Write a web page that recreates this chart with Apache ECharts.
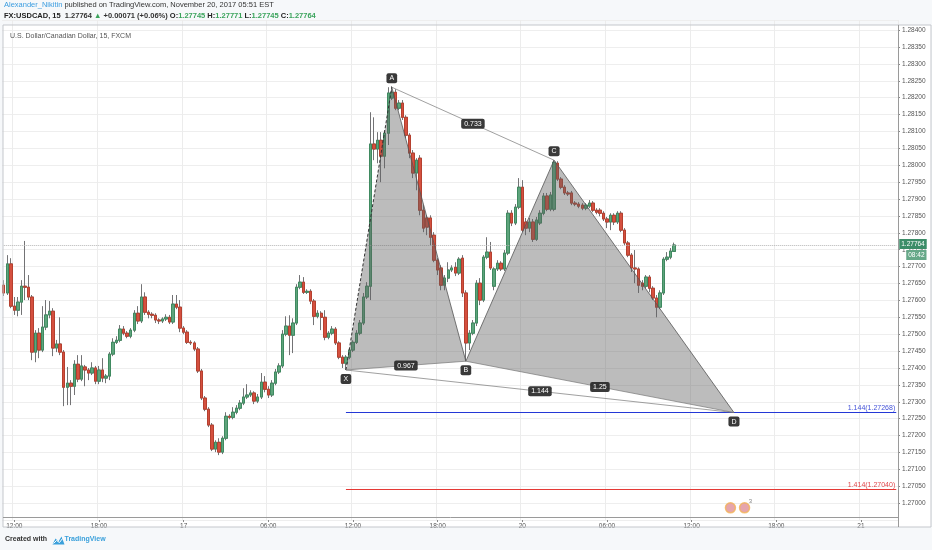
<!DOCTYPE html>
<html>
<head>
<meta charset="utf-8">
<title>FX:USDCAD, 15</title>
<script src="https://cdn.jsdelivr.net/npm/echarts@6/dist/echarts.min.js"></script>
<style>
  html, body { margin: 0; padding: 0; background: #f6f8fa; }
  #chart { width: 932px; height: 550px; }
</style>
</head>
<body>
<div id="chart"></div>
<script>
// 15 minute bars, Thu 16 11:15 -> Mon 20 10:45
var opens = [
  1.27645, 1.27622, 1.27708, 1.27583, 1.27571, 1.27595, 1.27642, 1.27639, 1.27610, 1.27447,
  1.27503, 1.27453, 1.27521, 1.27557, 1.27568, 1.27459, 1.27471, 1.27447, 1.27343, 1.27355,
  1.27346, 1.27411, 1.27367, 1.27403, 1.27394, 1.27385, 1.27400, 1.27361, 1.27394, 1.27370,
  1.27376, 1.27441, 1.27476, 1.27482, 1.27515, 1.27503, 1.27494, 1.27512, 1.27562, 1.27539,
  1.27610, 1.27565, 1.27559, 1.27556, 1.27542, 1.27539, 1.27545, 1.27550, 1.27536, 1.27589,
  1.27580, 1.27518, 1.27506, 1.27476, 1.27474, 1.27456, 1.27391, 1.27311, 1.27278, 1.27231,
  1.27160, 1.27180, 1.27151, 1.27192, 1.27257, 1.27254, 1.27269, 1.27281, 1.27296, 1.27314,
  1.27320, 1.27326, 1.27302, 1.27314, 1.27358, 1.27337, 1.27320, 1.27355, 1.27388, 1.27406,
  1.27500, 1.27524, 1.27497, 1.27533, 1.27639, 1.27654, 1.27624, 1.27627, 1.27598, 1.27553,
  1.27562, 1.27550, 1.27491, 1.27503, 1.27515, 1.27474, 1.27432, 1.27414, 1.27432, 1.27453,
  1.27476, 1.27503, 1.27533, 1.27610, 1.27642, 1.28063, 1.28048, 1.28074, 1.28027, 1.28095,
  1.28199, 1.28216, 1.28169, 1.28184, 1.28142, 1.28089, 1.28036, 1.27977, 1.28021, 1.27867,
  1.27844, 1.27844, 1.27793, 1.27719, 1.27696, 1.27645, 1.27666, 1.27690, 1.27698, 1.27681,
  1.27725, 1.27622, 1.27474, 1.27503, 1.27533, 1.27651, 1.27601, 1.27728, 1.27743, 1.27642,
  1.27693, 1.27710, 1.27693, 1.27740, 1.27858, 1.27829, 1.27876, 1.27935, 1.27832, 1.27814,
  1.27832, 1.27781, 1.27829, 1.27858, 1.27909, 1.27870, 1.27870, 1.28006, 1.27959, 1.27935,
  1.27918, 1.27918, 1.27888, 1.27885, 1.27882, 1.27873, 1.27879, 1.27888, 1.27867, 1.27867,
  1.27858, 1.27841, 1.27832, 1.27852, 1.27832, 1.27858, 1.27808, 1.27770, 1.27734, 1.27696,
  1.27693, 1.27651, 1.27642, 1.27669, 1.27636, 1.27607, 1.27580, 1.27622, 1.27722, 1.27728, 1.27745
];
var closes = [
  1.27622, 1.27708, 1.27583, 1.27571, 1.27595, 1.27642, 1.27639, 1.27610, 1.27447, 1.27503,
  1.27453, 1.27521, 1.27557, 1.27568, 1.27459, 1.27471, 1.27447, 1.27343, 1.27355, 1.27346,
  1.27411, 1.27367, 1.27406, 1.27394, 1.27385, 1.27400, 1.27361, 1.27394, 1.27370, 1.27376,
  1.27441, 1.27476, 1.27482, 1.27515, 1.27503, 1.27494, 1.27512, 1.27562, 1.27539, 1.27610,
  1.27565, 1.27559, 1.27556, 1.27542, 1.27539, 1.27545, 1.27550, 1.27536, 1.27589, 1.27580,
  1.27518, 1.27506, 1.27476, 1.27474, 1.27456, 1.27391, 1.27311, 1.27278, 1.27231, 1.27160,
  1.27180, 1.27151, 1.27192, 1.27257, 1.27254, 1.27269, 1.27281, 1.27296, 1.27314, 1.27320,
  1.27326, 1.27302, 1.27314, 1.27358, 1.27337, 1.27320, 1.27355, 1.27388, 1.27406, 1.27500,
  1.27524, 1.27497, 1.27533, 1.27639, 1.27654, 1.27624, 1.27627, 1.27598, 1.27553, 1.27562,
  1.27550, 1.27491, 1.27503, 1.27515, 1.27474, 1.27432, 1.27414, 1.27432, 1.27453, 1.27476,
  1.27503, 1.27533, 1.27610, 1.27642, 1.28063, 1.28048, 1.28074, 1.28027, 1.28095, 1.28214,
  1.28216, 1.28169, 1.28184, 1.28142, 1.28089, 1.28036, 1.27977, 1.28015, 1.27867, 1.27814,
  1.27817, 1.27787, 1.27719, 1.27690, 1.27645, 1.27666, 1.27690, 1.27696, 1.27681, 1.27722,
  1.27622, 1.27474, 1.27503, 1.27533, 1.27651, 1.27601, 1.27728, 1.27743, 1.27696, 1.27693,
  1.27710, 1.27693, 1.27740, 1.27858, 1.27829, 1.27876, 1.27935, 1.27808, 1.27814, 1.27832,
  1.27781, 1.27838, 1.27858, 1.27909, 1.27870, 1.27912, 1.28009, 1.27959, 1.27935, 1.27918,
  1.27915, 1.27888, 1.27885, 1.27879, 1.27873, 1.27882, 1.27888, 1.27867, 1.27861, 1.27858,
  1.27841, 1.27832, 1.27852, 1.27832, 1.27858, 1.27808, 1.27770, 1.27734, 1.27696, 1.27693,
  1.27645, 1.27642, 1.27669, 1.27636, 1.27607, 1.27580, 1.27622, 1.27722, 1.27728, 1.27746, 1.27764
];
var lows = [
  1.27613, 1.27616, 1.27577, 1.27557, 1.27553, 1.27557, 1.27601, 1.27601, 1.27423, 1.27417,
  1.27429, 1.27447, 1.27512, 1.27547, 1.27435, 1.27447, 1.27438, 1.27287, 1.27290, 1.27290,
  1.27320, 1.27358, 1.27361, 1.27346, 1.27364, 1.27379, 1.27352, 1.27352, 1.27358, 1.27355,
  1.27364, 1.27435, 1.27471, 1.27476, 1.27497, 1.27488, 1.27488, 1.27506, 1.27530, 1.27533,
  1.27557, 1.27547, 1.27547, 1.27533, 1.27530, 1.27533, 1.27539, 1.27530, 1.27530, 1.27574,
  1.27506, 1.27500, 1.27471, 1.27468, 1.27450, 1.27385, 1.27305, 1.27272, 1.27225, 1.27154,
  1.27151, 1.27142, 1.27145, 1.27186, 1.27248, 1.27248, 1.27263, 1.27275, 1.27290, 1.27308,
  1.27314, 1.27293, 1.27296, 1.27308, 1.27328, 1.27311, 1.27314, 1.27349, 1.27382, 1.27400,
  1.27494, 1.27438, 1.27444, 1.27527, 1.27633, 1.27619, 1.27619, 1.27589, 1.27527, 1.27547,
  1.27512, 1.27482, 1.27485, 1.27497, 1.27468, 1.27426, 1.27400, 1.27394, 1.27426, 1.27447,
  1.27471, 1.27497, 1.27527, 1.27604, 1.27601, 1.28015, 1.28006, 1.27950, 1.27991, 1.28060,
  1.28193, 1.28163, 1.28163, 1.28134, 1.28080, 1.28021, 1.27962, 1.27926, 1.27852, 1.27802,
  1.27793, 1.27764, 1.27713, 1.27675, 1.27630, 1.27630, 1.27654, 1.27684, 1.27672, 1.27675,
  1.27610, 1.27420, 1.27453, 1.27497, 1.27524, 1.27586, 1.27595, 1.27722, 1.27690, 1.27630,
  1.27687, 1.27687, 1.27687, 1.27734, 1.27820, 1.27823, 1.27870, 1.27802, 1.27793, 1.27802,
  1.27773, 1.27776, 1.27823, 1.27852, 1.27864, 1.27864, 1.27864, 1.27953, 1.27929, 1.27912,
  1.27909, 1.27882, 1.27879, 1.27873, 1.27867, 1.27867, 1.27873, 1.27861, 1.27855, 1.27849,
  1.27835, 1.27814, 1.27808, 1.27823, 1.27826, 1.27802, 1.27764, 1.27728, 1.27684, 1.27651,
  1.27622, 1.27630, 1.27636, 1.27624, 1.27601, 1.27550, 1.27574, 1.27616, 1.27716, 1.27722, 1.27745
];
var highs = [
  1.27660, 1.27734, 1.27725, 1.27610, 1.27610, 1.27660, 1.27776, 1.27675, 1.27616, 1.27512,
  1.27518, 1.27583, 1.27601, 1.27598, 1.27577, 1.27483, 1.27550, 1.27453, 1.27403, 1.27364,
  1.27423, 1.27438, 1.27438, 1.27409, 1.27400, 1.27417, 1.27406, 1.27406, 1.27429, 1.27382,
  1.27447, 1.27488, 1.27494, 1.27527, 1.27524, 1.27509, 1.27518, 1.27571, 1.27583, 1.27648,
  1.27624, 1.27571, 1.27565, 1.27562, 1.27547, 1.27550, 1.27559, 1.27557, 1.27616, 1.27616,
  1.27601, 1.27524, 1.27512, 1.27482, 1.27479, 1.27462, 1.27397, 1.27317, 1.27284, 1.27237,
  1.27186, 1.27192, 1.27198, 1.27269, 1.27263, 1.27284, 1.27290, 1.27305, 1.27340, 1.27352,
  1.27334, 1.27331, 1.27323, 1.27385, 1.27376, 1.27346, 1.27364, 1.27397, 1.27414, 1.27512,
  1.27553, 1.27556, 1.27547, 1.27648, 1.27675, 1.27669, 1.27633, 1.27633, 1.27604, 1.27571,
  1.27568, 1.27571, 1.27509, 1.27524, 1.27521, 1.27479, 1.27438, 1.27438, 1.27459, 1.27482,
  1.27512, 1.27542, 1.27622, 1.27654, 1.28157, 1.28142, 1.28098, 1.28098, 1.28104, 1.28231,
  1.28234, 1.28225, 1.28193, 1.28193, 1.28148, 1.28095, 1.28045, 1.28021, 1.28030, 1.27882,
  1.27852, 1.27852, 1.27802, 1.27725, 1.27704, 1.27675, 1.27713, 1.27704, 1.27713, 1.27728,
  1.27734, 1.27630, 1.27512, 1.27542, 1.27660, 1.27666, 1.27734, 1.27787, 1.27773, 1.27698,
  1.27719, 1.27716, 1.27749, 1.27867, 1.27867, 1.27885, 1.27962, 1.27956, 1.27844, 1.27844,
  1.27841, 1.27847, 1.27867, 1.27918, 1.27918, 1.27921, 1.28015, 1.28012, 1.27965, 1.27941,
  1.27924, 1.27924, 1.27894, 1.27891, 1.27888, 1.27888, 1.27897, 1.27894, 1.27873, 1.27873,
  1.27864, 1.27847, 1.27858, 1.27858, 1.27864, 1.27864, 1.27814, 1.27776, 1.27740, 1.27749,
  1.27698, 1.27660, 1.27675, 1.27675, 1.27642, 1.27616, 1.27630, 1.27728, 1.27743, 1.27755, 1.27771
];

// XABCD pattern (bar index, price)
var patternNames = ["X", "A", "B", "C", "D"];
var patternBars = [97, 110, 131, 156, 207];
var patternPrices = [1.27394, 1.28231, 1.27420, 1.28015, 1.27268];
var ratioLabels = ["0.967", "0.733", "1.144", "1.25"]; // XB, AC, XD, BD

var lastPrice = 1.27764;
var projections = [1.27268, 1.27040];
var projectionLabels = ["1.144(1.27268)", "1.414(1.27040)"];
var eventBars = [206, 210];

function pad(n) { return n < 10 ? "0" + n : "" + n; }

// bar times, weekend skipped (Fri 17:00 -> Sun 17:00)
function sessionTimes(day, hour, minute, count) {
  var out = [];
  var t = (day * 24 + hour) * 60 + minute;
  for (var k = 0; k < count; k++) {
    var d = Math.floor(t / 1440), hm = t % 1440;
    out.push(d + " " + pad(Math.floor(hm / 60)) + ":" + pad(hm % 60));
    t += 15;
  }
  return out;
}
var categories = sessionTimes(16, 11, 15, 119).concat(sessionTimes(19, 17, 0, 135));
var lastCat = categories[categories.length - 1];

function isMajor(index, value) {
  var hm = value.split(" ")[1];
  return hm.slice(3) === "00" && parseInt(hm.slice(0, 2), 10) % 6 === 0;
}

var fullData = [], bodyData = [];
for (var k = 0; k < opens.length; k++) {
  fullData.push([opens[k], closes[k], lows[k], highs[k]]);
  bodyData.push([opens[k], closes[k], Math.min(opens[k], closes[k]), Math.max(opens[k], closes[k])]);
}

var FONT = "Liberation Sans, Arial, sans-serif";
var chart = echarts.init(document.getElementById("chart"));

function tag(text, x, y) {
  return {
    type: "text",
    style: {
      text: text, x: x, y: y, fill: "#fff", font: "7px " + FONT,
      align: "center", verticalAlign: "middle",
      backgroundColor: "rgba(40,40,40,0.92)", padding: [2, 3, 1, 3], borderRadius: 2
    }
  };
}
function mid(p, q) { return [(p[0] + q[0]) / 2, (p[1] + q[1]) / 2]; }

var option = {
  animation: false,
  backgroundColor: "#f6f8fa",
  textStyle: { fontFamily: FONT },
  title: [
    {
      left: 4, top: 1, padding: 0,
      text: "{u|Alexander_Nikitin} {p|published on TradingView.com, November 20, 2017 05:51 EST}",
      textStyle: {
        fontSize: 7.5, fontWeight: "normal",
        rich: {
          u: { color: "#3c9de0", fontSize: 7.5, fontFamily: FONT },
          p: { color: "#333", fontSize: 7.5, fontFamily: FONT }
        }
      }
    },
    {
      left: 4, top: 12, padding: 0,
      text: "{b|FX:USDCAD, 15}  {n|1.27764} {g|▲} {n|+0.00071 (+0.06%)} {b|O:}{g|1.27745} {b|H:}{g|1.27771} {b|L:}{g|1.27745} {b|C:}{g|1.27764}",
      textStyle: {
        fontSize: 7.5,
        rich: {
          b: { color: "#222", fontWeight: "bold", fontSize: 7.5, fontFamily: FONT },
          n: { color: "#333", fontSize: 7.5, fontFamily: FONT },
          g: { color: "#3aa35b", fontSize: 7.5, fontFamily: FONT }
        }
      }
    },
    {
      left: 10, top: 33, padding: 0,
      text: "U.S. Dollar/Canadian Dollar, 15, FXCM",
      textStyle: { fontSize: 7, fontWeight: "normal", color: "#555", fontFamily: FONT }
    },
    {
      left: 5, top: 536, padding: 0,
      text: "{c|Created with}         {t|TradingView}",
      textStyle: {
        fontSize: 7,
        rich: {
          c: { color: "#333", fontSize: 7, fontFamily: FONT },
          t: { color: "#3aa0db", fontSize: 7, fontFamily: FONT }
        }
      }
    }
  ],
  graphic: [
    { type: "rect", z: -10, shape: { x: 3, y: 25, width: 928, height: 502 }, style: { fill: "#fff" } },
    { type: "rect", z: 100, shape: { x: 3, y: 25, width: 928, height: 502 }, style: { fill: "none", stroke: "#c4c7cc", lineWidth: 1 } },
    { type: "line", z: 100, shape: { x1: 3, y1: 517.5, x2: 898, y2: 517.5 }, style: { stroke: "#9a9a9a", lineWidth: 1 } },
    { type: "line", z: 100, shape: { x1: 898.5, y1: 25, x2: 898.5, y2: 527 }, style: { stroke: "#9a9a9a", lineWidth: 1 } },
    {
      type: "group", left: 51, top: 536,
      children: [
        { type: "polygon", shape: { points: [[0, 8], [3, 2], [6, 5], [9, 0], [12, 8]] }, style: { fill: "#3aa0db" } },
        { type: "polyline", shape: { points: [[1, 7], [4, 4], [7, 6], [10, 2]] }, style: { stroke: "#fff", lineWidth: 1 } }
      ]
    }
  ],
  grid: { left: 2, right: 34, top: 20, bottom: 30 },
  xAxis: {
    type: "category",
    data: categories,
    boundaryGap: true,
    axisLine: { show: false },
    axisTick: { show: true, interval: isMajor, alignWithLabel: true, length: 2, lineStyle: { color: "#888" } },
    axisLabel: {
      interval: isMajor, margin: 3, fontSize: 6.5, color: "#555",
      formatter: function (v) {
        var parts = v.split(" ");
        return parts[1] === "00:00" ? parts[0] : parts[1];
      }
    },
    splitLine: { show: true, interval: isMajor, lineStyle: { color: "#ececec" } }
  },
  yAxis: {
    type: "value",
    position: "right",
    scale: true,
    min: 1.2695,
    max: 1.2843,
    interval: 0.0005,
    axisLine: { show: false },
    axisTick: { show: true, length: 2, lineStyle: { color: "#888" } },
    axisLabel: {
      margin: 4, fontSize: 6.5, color: "#555",
      showMinLabel: false, showMaxLabel: false,
      formatter: function (v) { return v.toFixed(5); }
    },
    splitLine: { lineStyle: { color: "#eeeeee" } }
  },
  series: [
    {
      name: "wicks",
      type: "candlestick",
      data: fullData,
      barWidth: "84%",
      z: 2,
      itemStyle: { color: "#6ba583", color0: "#d75442", borderColor: "#737375", borderColor0: "#737375", borderWidth: 1 }
    },
    {
      name: "bodies",
      type: "candlestick",
      data: bodyData,
      barWidth: "84%",
      z: 3,
      itemStyle: { color: "#5ea47c", color0: "#d5503f", borderColor: "#3f8a60", borderColor0: "#b5402f", borderWidth: 1 },
      markLine: {
        symbol: "none",
        silent: true,
        data: [
          [
            {
              coord: [categories[patternBars[0]], projections[0]],
              lineStyle: { color: "#2438d6", width: 1.2, type: "solid" },
              label: { show: true, position: "insideEndTop", distance: 1, formatter: projectionLabels[0], color: "#4453d8", fontSize: 7 }
            },
            { coord: [lastCat, projections[0]] }
          ],
          [
            {
              coord: [categories[patternBars[0]], projections[1]],
              lineStyle: { color: "#e53935", width: 1.2, type: "solid" },
              label: { show: true, position: "insideEndTop", distance: 1, formatter: projectionLabels[1], color: "#e0484c", fontSize: 7 }
            },
            { coord: [lastCat, projections[1]] }
          ],
          [
            {
              coord: [categories[0], lastPrice],
              lineStyle: { color: "#b5b5b5", type: "dotted", width: 1 },
              label: {
                show: true, position: "end", distance: 3, offset: [0, 5],
                formatter: "{p|" + lastPrice.toFixed(5) + "}\n{s|}{t|08:42}",
                rich: {
                  p: { backgroundColor: "#3c8d68", color: "#fff", fontSize: 6.5, padding: [2, 2, 1, 2], fontFamily: FONT },
                  s: { width: 7 },
                  t: { backgroundColor: "#66a888", color: "#fff", fontSize: 6.5, padding: [2, 2, 1, 2], fontFamily: FONT }
                }
              }
            },
            { coord: [lastCat, lastPrice] }
          ]
        ]
      }
    },
    {
      name: "pattern",
      type: "custom",
      z: 5,
      data: [[0]],
      renderItem: function (params, api) {
        var p = patternBars.map(function (b, k) { return api.coord([b, patternPrices[k]]); });
        var X = p[0], A = p[1], B = p[2], C = p[3], D = p[4];
        var fill = "rgba(95,95,95,0.42)";
        var edge = { stroke: "#555", lineWidth: 0.8, fill: "none" };
        var thin = { stroke: "#777", lineWidth: 0.7, fill: "none" };
        var kids = [
          { type: "polygon", shape: { points: [X, A, B] }, style: { fill: fill } },
          { type: "polygon", shape: { points: [B, C, D] }, style: { fill: fill } },
          { type: "line", shape: { x1: X[0], y1: X[1], x2: A[0], y2: A[1] }, style: { stroke: "#333", lineWidth: 1, lineDash: [3, 2] } },
          { type: "polyline", shape: { points: [A, B, C, D] }, style: edge },
          { type: "line", shape: { x1: X[0], y1: X[1], x2: B[0], y2: B[1] }, style: thin },
          { type: "line", shape: { x1: A[0], y1: A[1], x2: C[0], y2: C[1] }, style: thin },
          { type: "line", shape: { x1: X[0], y1: X[1], x2: D[0], y2: D[1] }, style: thin },
          { type: "line", shape: { x1: B[0], y1: B[1], x2: D[0], y2: D[1] }, style: thin }
        ];
        var segs = [[X, B], [A, C], [X, D], [B, D]];
        segs.forEach(function (s, k) {
          var m = mid(s[0], s[1]);
          kids.push(tag(ratioLabels[k], m[0], m[1]));
        });
        var above = { A: true, C: true };
        p.forEach(function (pt, k) {
          var n = patternNames[k];
          kids.push(tag(n, pt[0], pt[1] + (above[n] ? -9 : 9)));
        });
        return { type: "group", children: kids };
      }
    },
    {
      name: "events",
      type: "scatter",
      z: 6,
      data: eventBars.map(function (b) { return [b, 1.26986]; }),
      symbol: "circle",
      symbolSize: 10,
      itemStyle: { color: "#e08f97", borderColor: "#f2b356", borderWidth: 1.5 },
      label: {
        show: true, position: [10, -4], fontSize: 6, color: "#666",
        formatter: function (p) { return p.dataIndex === 1 ? "3" : ""; }
      }
    }
  ]
};

chart.setOption(option);
</script>
</body>
</html>
